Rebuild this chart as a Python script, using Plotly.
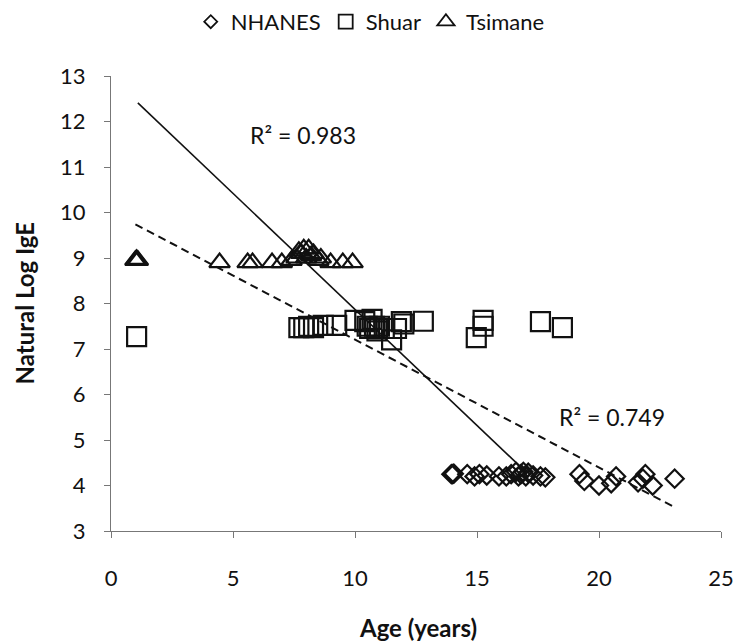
import numpy as np
import plotly.graph_objects as go

# --- Data -------------------------------------------------------------
nhanes_age = [13.95, 14.0, 14.05, 14.6, 14.9, 15.1, 15.4, 15.9, 16.2, 16.4, 16.6,
              16.7, 16.8, 16.9, 17.0, 17.1, 17.3, 17.6, 17.8, 19.2, 19.4, 20.0,
              20.5, 20.7, 21.6, 21.8, 21.9, 22.2, 23.1]
nhanes_ige = [4.25, 4.25, 4.26, 4.25, 4.2, 4.25, 4.22, 4.2, 4.2, 4.25, 4.3,
              4.2, 4.25, 4.3, 4.2, 4.28, 4.22, 4.2, 4.18, 4.25, 4.1, 4.0,
              4.05, 4.2, 4.07, 4.15, 4.25, 4.0, 4.15]

shuar_age = [1.05, 7.7, 7.9, 8.1, 8.3, 8.7, 9.25, 10.0, 10.4, 10.5, 10.6, 10.7,
             10.8, 10.9, 11.0, 11.2, 11.5, 11.7, 11.9, 12.0, 12.8, 14.97, 15.25,
             15.25, 17.6, 18.5]
shuar_ige = [7.27, 7.47, 7.47, 7.5, 7.47, 7.52, 7.52, 7.63, 7.6, 7.5, 7.45, 7.65,
             7.5, 7.4, 7.5, 7.45, 7.2, 7.45, 7.6, 7.55, 7.61, 7.25, 7.63,
             7.5, 7.6, 7.47]

tsimane_age = [1.0, 1.05, 1.1, 4.45, 5.6, 5.8, 6.6, 7.0, 7.4, 7.6, 7.7, 7.8,
               7.9, 8.0, 8.1, 8.2, 8.3, 8.5, 8.6, 9.0, 9.5, 9.9]
tsimane_ige = [8.95, 8.97, 8.95, 8.9, 8.9, 8.9, 8.9, 8.9, 8.95, 9.0, 9.15, 9.1,
               9.2, 9.0, 9.2, 9.05, 9.1, 8.95, 9.0, 8.9, 8.9, 8.9]

# Linear fits: (slope, intercept), age span and R²
fit_groups = (-0.51, 12.97)
fit_groups_span = [1.1, 17.0]
fit_groups_r2 = 0.983

fit_all = (-0.2813, 10.02)
fit_all_span = [1.0, 23.06]
fit_all_r2 = 0.749

FONT = "Lato, 'Open Sans', sans-serif"
INK = "#111111"

fig = go.Figure()

marker_line = dict(color=INK, width=2.2)

fig.add_trace(go.Scatter(
    x=nhanes_age, y=nhanes_ige, mode="markers", showlegend=False,
    marker=dict(symbol="diamond-open", size=14, color=INK, line=marker_line)))
fig.add_trace(go.Scatter(
    x=shuar_age, y=shuar_ige, mode="markers", showlegend=False,
    marker=dict(symbol="square-open", size=19, color=INK, line=marker_line)))
fig.add_trace(go.Scatter(
    x=tsimane_age, y=tsimane_ige, mode="markers", showlegend=False,
    marker=dict(symbol="triangle-up-open", size=18, color=INK, line=marker_line)))

# Trend lines
xs = np.array(fit_groups_span)
fig.add_trace(go.Scatter(
    x=xs, y=fit_groups[0] * xs + fit_groups[1], mode="lines", showlegend=False,
    line=dict(color=INK, width=1.6), hoverinfo="skip"))
xs = np.array(fit_all_span)
fig.add_trace(go.Scatter(
    x=xs, y=fit_all[0] * xs + fit_all[1], mode="lines", showlegend=False,
    line=dict(color=INK, width=2, dash="8px,5px"), hoverinfo="skip"))

# Legend entries
for name, sym, size in [("NHANES", "diamond-open", 10),
                        ("Shuar", "square-open", 14),
                        ("Tsimane", "triangle-up-open", 15)]:
    fig.add_trace(go.Scatter(
        x=[None], y=[None], mode="markers", name=name,
        marker=dict(symbol=sym, size=size, color=INK, line=dict(color=INK, width=1.8))))

fig.add_annotation(x=7.87, y=11.70, text=f"R² = {fit_groups_r2}", showarrow=False,
                   font=dict(family=FONT, size=23, color=INK))
fig.add_annotation(x=20.53, y=5.5, text=f"R² = {fit_all_r2}", showarrow=False,
                   font=dict(family=FONT, size=23, color=INK))

# Axis titles
fig.add_annotation(x=0.503, y=-0.213, xref="paper", yref="paper",
                   xanchor="center", yanchor="middle",
                   text="<b>Age (years)</b>", showarrow=False,
                   font=dict(family=FONT, size=24, color=INK))
fig.add_annotation(x=-0.141, y=0.5, xref="paper", yref="paper", textangle=-90,
                   xanchor="center", yanchor="middle",
                   text="<b>Natural Log IgE</b>", showarrow=False,
                   font=dict(family=FONT, size=24, color=INK))

axis_common = dict(showgrid=False, zeroline=False, showline=True,
                   linecolor="#777777", linewidth=1, ticks="outside",
                   ticklen=6, tickcolor="#777777", tickwidth=1,
                   tickfont=dict(family=FONT, size=22, color=INK))

fig.update_xaxes(range=[0, 25], dtick=5, tick0=0, ticklabelstandoff=22, **axis_common)
fig.update_yaxes(range=[3, 13], dtick=1, tick0=3, ticklabelstandoff=14, **axis_common)

fig.update_layout(
    width=741, height=642,
    margin=dict(l=111, r=20, t=76, b=111, autoexpand=False),
    paper_bgcolor="white", plot_bgcolor="white",
    font=dict(family=FONT, color=INK),
    legend=dict(orientation="h", x=0.425, xanchor="center", y=1.119, yanchor="middle",
                font=dict(family=FONT, size=22, color=INK), itemwidth=30,
                bgcolor="rgba(0,0,0,0)"),
)

fig.write_html("out.html")
